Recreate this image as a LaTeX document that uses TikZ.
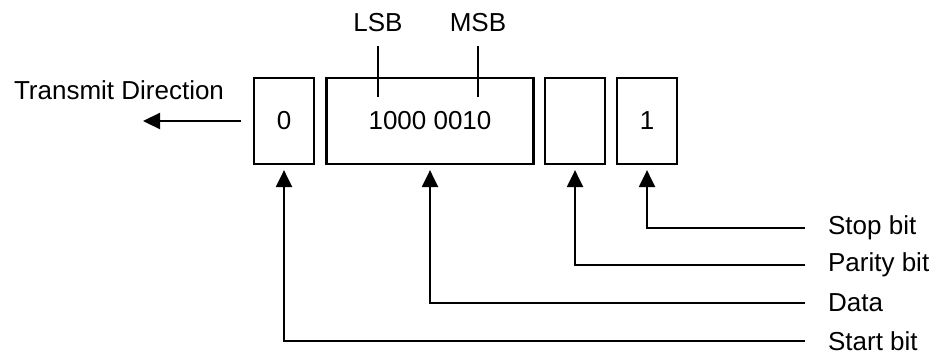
\documentclass[tikz,border=0pt]{standalone}
\usepackage{fontspec}
\setmainfont{Liberation Sans}
\usetikzlibrary{arrows.meta}

\begin{document}
\begin{tikzpicture}[x=0.5pt, y=-0.5pt, line width=1.1pt, >={Triangle[length=8.5pt,width=8pt]},
    font=\fontsize{13pt}{15pt}\selectfont,
    bitbox/.style={draw, minimum height=43pt, inner sep=0pt},
    lbl/.style={anchor=west, inner xsep=11pt, inner ysep=0pt}]

    \useasboundingbox (0, 0) rectangle (935, 354);

    \node[bitbox, minimum width=30pt] (b0) at (284, 121) {0};
    \node[bitbox, minimum width=103.5pt] (bd) at (430, 121) {1000 0010};
    \node[bitbox, minimum width=30pt] (bp) at (575, 121) {};
    \node[bitbox, minimum width=30pt] (b1) at (647, 121) {1};

    \node (lsb) at (378, 23) {LSB};
    \node (msb) at (478, 23) {MSB};
    \coordinate (lsbend) at (378, 97);
    \coordinate (msbend) at (478, 97);

    \node (tx) at (119, 90) {Transmit Direction};
    \coordinate (txend) at (143, 121);

    \node[lbl] (lstop) at (805, 228) {Stop bit};
    \node[lbl] (lpar) at (805, 265) {Parity bit};
    \node[lbl] (ldata) at (805, 303) {Data};
    \node[lbl] (lstart) at (805, 341) {Start bit};

    \draw [shorten <=3pt] (lsb.south) -- (lsbend);
    \draw [shorten <=3pt] (msb.south) -- (msbend);
    \draw [->, shorten <=6pt] (b0.west) -- (txend);
    \draw [->, shorten >=2.5pt] (lstop.west) -| (b1.south);
    \draw [->, shorten >=2.5pt] (lpar.west) -| (bp.south);
    \draw [->, shorten >=2.5pt] (ldata.west) -| (bd.south);
    \draw [->, shorten >=2.5pt] (lstart.west) -| (b0.south);

\end{tikzpicture}
\end{document}
